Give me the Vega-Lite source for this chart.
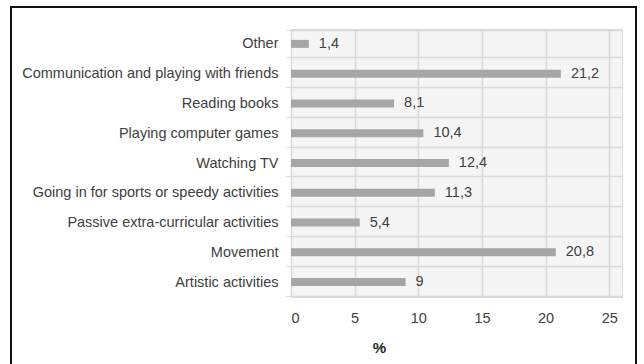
{
  "$schema": "https://vega.github.io/schema/vega-lite/v6.json",
  "width": 331,
  "height": 268,
  "autosize": {"type": "none"},
  "padding": {"left": 291, "top": 29, "right": 22, "bottom": 67},
  "background": "white",
  "config": {
    "font": "Liberation Sans",
    "view": {"stroke": "#d9d9d9", "strokeWidth": 1, "fill": "#f5f5f5"},
    "axis": {
      "labelFont": "Liberation Sans",
      "labelFontSize": 14.5,
      "labelColor": "#404040",
      "labelLimit": 0,
      "titleFont": "Liberation Sans",
      "gridColor": "#d9d9d9",
      "gridWidth": 1.5
    }
  },
  "data": {
    "values": [
      {"activity": "Other", "pct": 1.4, "label": "1,4"},
      {"activity": "Communication and playing with friends", "pct": 21.2, "label": "21,2"},
      {"activity": "Reading books", "pct": 8.1, "label": "8,1"},
      {"activity": "Playing computer games", "pct": 10.4, "label": "10,4"},
      {"activity": "Watching TV", "pct": 12.4, "label": "12,4"},
      {"activity": "Going in for sports or speedy activities", "pct": 11.3, "label": "11,3"},
      {"activity": "Passive extra-curricular activities", "pct": 5.4, "label": "5,4"},
      {"activity": "Movement", "pct": 20.8, "label": "20,8"},
      {"activity": "Artistic activities", "pct": 9, "label": "9"}
    ]
  },
  "encoding": {
    "y": {
      "field": "activity",
      "type": "nominal",
      "sort": null,
      "title": null,
      "axis": {
        "tickBand": "extent",
        "domain": false,
        "tickColor": "#d9d9d9",
        "tickSize": 5,
        "labelPadding": 8,
        "grid": true
      }
    }
  },
  "layer": [
    {
      "mark": {"type": "bar", "color": "#a6a6a6", "size": 8},
      "encoding": {
        "x": {
          "field": "pct",
          "type": "quantitative",
          "scale": {"domain": [0, 25]},
          "title": "%",
          "axis": {
            "values": [0, 5, 10, 15, 20, 25],
            "domain": false,
            "ticks": false,
            "labelPadding": 14,
            "grid": true,
            "titleFontSize": 15,
            "titleFontWeight": "bold",
            "titleColor": "#222222",
            "titleX": 88,
            "titleY": 50,
            "titleAlign": "center",
            "titleBaseline": "middle"
          }
        }
      }
    },
    {
      "mark": {"type": "text", "align": "left", "dx": 10, "fontSize": 14.5, "color": "#404040", "font": "Liberation Sans"},
      "encoding": {
        "x": {"field": "pct", "type": "quantitative"},
        "text": {"field": "label"}
      }
    },
    {
      "mark": {"type": "rect", "fill": null, "stroke": "#111111", "strokeWidth": 2},
      "encoding": {
        "x": {"value": -280},
        "x2": {"value": 345},
        "y": {"value": -22},
        "y2": {"value": 350}
      }
    }
  ]
}
